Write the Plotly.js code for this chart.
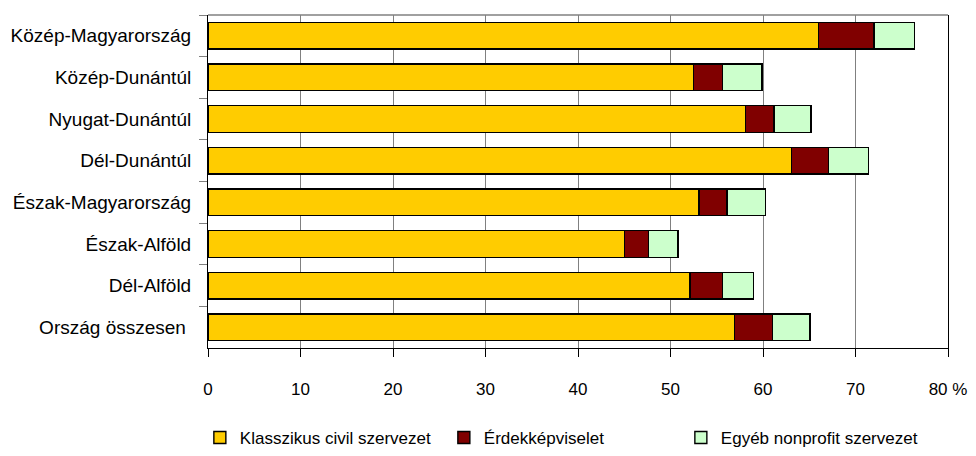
<!DOCTYPE html>
<html>
<head>
<meta charset="utf-8">
<script src="https://cdn.plot.ly/plotly-3.0.1.min.js"></script>
<style>html,body{margin:0;padding:0;background:#fff;}#chart{width:976px;height:456px;}</style>
</head>
<body>
<div id="chart"></div>
<script>
const regions = ['Közép-Magyarország','Közép-Dunántúl','Nyugat-Dunántúl','Dél-Dunántúl','Észak-Magyarország','Észak-Alföld','Dél-Alföld','Ország összesen\u00a0'];
const klasszikus = [66.0, 52.5, 58.1, 63.1, 53.1, 45.0, 52.1, 56.9];
const erdekkepviselet = [6.0, 3.1, 3.1, 4.0, 3.0, 2.6, 3.5, 4.1];
const egyeb = [4.4, 4.3, 4.0, 4.3, 4.2, 3.2, 3.4, 4.1];
const seriesNames = ['Klasszikus civil szervezet','Érdekképviselet','Egyéb nonprofit szervezet'];
const tickValues = [0,10,20,30,40,50,60,70,80];
const tickLabels = ['0','10','20','30','40','50','60','70','80 %'];

const colors = ['#FFCC00','#800000','#CCFFCC'];
const seriesData = [klasszikus, erdekkepviselet, egyeb];
const widths = [199, 192, 200];
const traces = seriesData.map((vals,i)=>({
  type:'bar', orientation:'h', y:regions, x:vals, name:seriesNames[i],
  marker:{color:colors[i], line:{color:'#000', width:1.4}},
  legendwidth: widths[i], hoverinfo:'x+y'
}));

const layout = {
  width:976, height:456,
  margin:{l:208, r:28, t:15, b:108, autoexpand:false},
  paper_bgcolor:'#fff', plot_bgcolor:'#fff',
  font:{family:'"Liberation Sans", Arial, sans-serif', color:'#000', size:16},
  barmode:'stack', bargap:0.36,
  showlegend:true,
  legend:{orientation:'h', x:-0.011, xanchor:'left', y:-0.27, yanchor:'middle',
          font:{size:17}, itemwidth:30, traceorder:'normal'},
  xaxis:{range:[0,80], tickvals:tickValues, ticktext:tickLabels,
         showgrid:true, gridcolor:'#808080', gridwidth:1, zeroline:false,
         showline:true, linecolor:'#000', linewidth:1, automargin:false,
         ticks:'outside', ticklen:8, tickcolor:'#000', ticklabelstandoff:18,
         tickfont:{size:17}, fixedrange:true},
  yaxis:{autorange:'reversed', type:'category', showgrid:false, zeroline:false,
         showline:true, linecolor:'#000', linewidth:1, mirror:true, automargin:false,
         ticks:'outside', ticklen:8, tickcolor:'#808080', tickson:'boundaries',
         ticklabelstandoff:12, tickfont:{size:19}, fixedrange:true},
  shapes:[{type:'line', xref:'paper', yref:'paper', x0:0, x1:1, y0:1, y1:1,
           line:{color:'#808080', width:1.5}}]
};
Plotly.newPlot('chart', traces, layout, {displayModeBar:false, staticPlot:true});
</script>
</body>
</html>
